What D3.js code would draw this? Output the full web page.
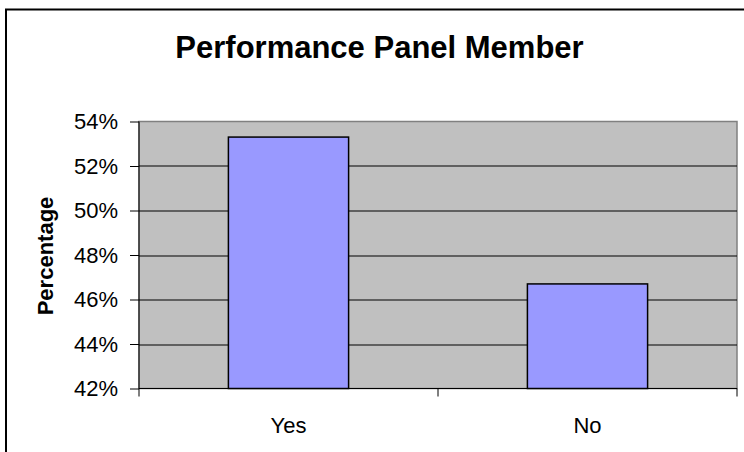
<!DOCTYPE html>
<html>
<head>
<meta charset="utf-8">
<script src="https://cdn.jsdelivr.net/npm/d3@7"></script>
<style>
    body { margin: 0; background: #fff; }
    svg { display: block; font-family: Arial, "Liberation Sans", sans-serif; }
</style>
</head>
<body>
<div id="wrapper"></div>
<script>
// data
const categories = ["Yes", "No"]
const percentages = [53.3, 46.7]
const yTicks = [42, 44, 46, 48, 50, 52, 54]

function drawChart() {
    const dataset = categories.map((c, i) => ({ category: c, value: percentages[i] }))
    const xAccessor = d => d.category
    const yAccessor = d => d.value

    // chart dimensions
    let dimensions = {
        width: 744,
        height: 452,
        margin: { top: 121.5, right: 7, bottom: 63.5, left: 139 }
    }
    dimensions.boundedWidth = dimensions.width - dimensions.margin.left - dimensions.margin.right
    dimensions.boundedHeight = dimensions.height - dimensions.margin.top - dimensions.margin.bottom

    // draw canvas
    const wrapper = d3.select("#wrapper")
        .append("svg")
        .attr("width", dimensions.width)
        .attr("height", dimensions.height)

    // chart frame (runs past the right and bottom edges)
    wrapper.append("rect")
        .attr("x", 6)
        .attr("y", 9.5)
        .attr("width", 800)
        .attr("height", 500)
        .attr("fill", "none")
        .attr("stroke", "#000")
        .attr("stroke-width", 2)

    wrapper.append("text")
        .attr("x", 379.5)
        .attr("y", 58)
        .attr("text-anchor", "middle")
        .style("font-size", "31px")
        .style("font-weight", "bold")
        .text("Performance Panel Member")

    const bounds = wrapper.append("g")
        .attr("transform", `translate(${dimensions.margin.left}, ${dimensions.margin.top})`)

    // scales
    const yScale = d3.scaleLinear()
        .domain([42, 54])
        .range([dimensions.boundedHeight, 0])

    const xScale = d3.scaleBand()
        .domain(categories)
        .range([0, dimensions.boundedWidth])
        .padding(0)

    // plot area
    bounds.append("rect")
        .attr("width", dimensions.boundedWidth)
        .attr("height", dimensions.boundedHeight)
        .attr("fill", "#c0c0c0")
        .attr("stroke", "#808080")
        .attr("stroke-width", 1.5)

    // gridlines
    bounds.append("g")
        .selectAll("line")
        .data(yTicks.slice(1, -1))
        .enter().append("line")
        .attr("x1", 0)
        .attr("x2", dimensions.boundedWidth)
        .attr("y1", d => Math.round(yScale(d)) + 0.5)
        .attr("y2", d => Math.round(yScale(d)) + 0.5)
        .attr("stroke", "#000")
        .attr("stroke-width", 1)

    // bars
    const barWidth = xScale.bandwidth() * 0.402
    bounds.append("g")
        .selectAll("rect")
        .data(dataset)
        .enter().append("rect")
        .attr("x", d => xScale(xAccessor(d)) + (xScale.bandwidth() - barWidth) / 2)
        .attr("y", d => yScale(yAccessor(d)))
        .attr("width", barWidth)
        .attr("height", d => dimensions.boundedHeight - yScale(yAccessor(d)))
        .attr("fill", "#9999ff")
        .attr("stroke", "#000")
        .attr("stroke-width", 1.5)

    // y axis
    const yAxisGenerator = d3.axisLeft(yScale)
        .tickValues(yTicks)
        .tickSize(9)
        .tickPadding(12)
        .tickFormat(d => d + "%")

    const yAxis = bounds.append("g")
        .call(yAxisGenerator)
    yAxis.select(".domain").attr("stroke", "#000").attr("d", `M0,0V${dimensions.boundedHeight}`)
    yAxis.selectAll("text")
        .style("font-size", "22px")
        .style("font-family", "Arial, 'Liberation Sans', sans-serif")
        .attr("fill", "#000")

    // x axis
    const xAxis = bounds.append("g")
        .attr("transform", `translate(0, ${dimensions.boundedHeight})`)
    xAxis.append("line")
        .attr("x1", 0)
        .attr("x2", dimensions.boundedWidth)
        .attr("stroke", "#000")
    xAxis.selectAll(".sep")
        .data(d3.range(categories.length + 1))
        .enter().append("line")
        .attr("class", "sep")
        .attr("x1", i => i * xScale.step())
        .attr("x2", i => i * xScale.step())
        .attr("y1", 0)
        .attr("y2", 8)
        .attr("stroke", "#000")
    xAxis.selectAll(".cat")
        .data(categories)
        .enter().append("text")
        .attr("class", "cat")
        .attr("x", d => xScale(d) + xScale.bandwidth() / 2)
        .attr("y", 44)
        .attr("text-anchor", "middle")
        .style("font-size", "22px")
        .text(d => d)

    // y axis label
    wrapper.append("text")
        .attr("transform", "translate(53, 256) rotate(-90)")
        .attr("text-anchor", "middle")
        .style("font-size", "22px")
        .style("font-weight", "bold")
        .text("Percentage")
}

drawChart()
</script>
</body>
</html>
